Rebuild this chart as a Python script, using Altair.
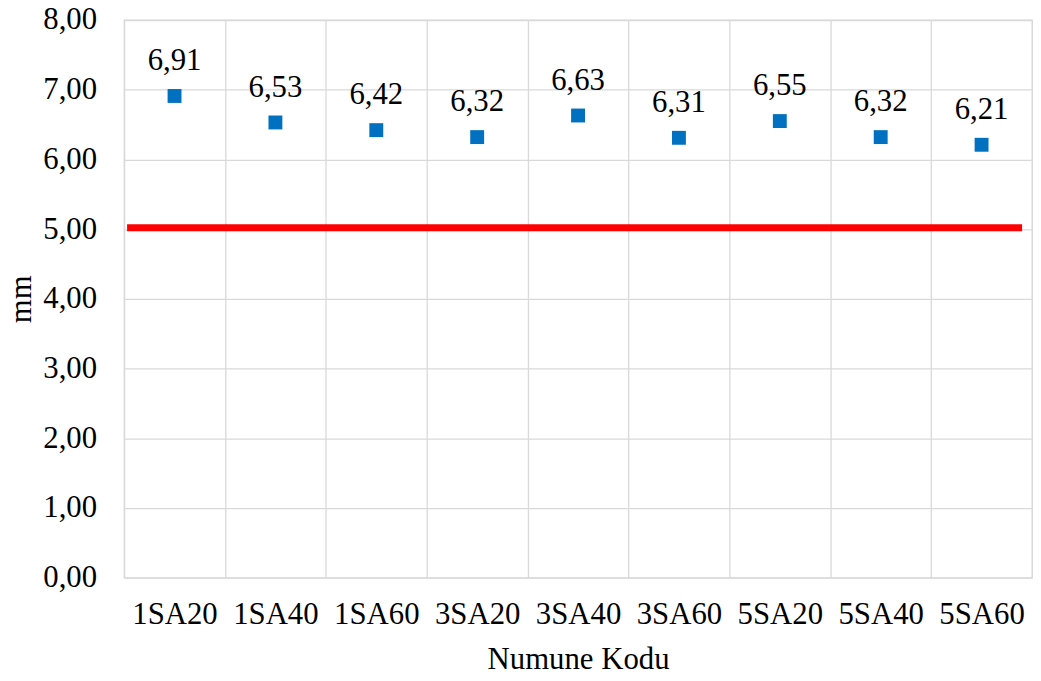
import altair as alt
import pandas as pd

codes = ["1SA20", "1SA40", "1SA60", "3SA20", "3SA40", "3SA60", "5SA20", "5SA40", "5SA60"]
values = [6.91, 6.53, 6.42, 6.32, 6.63, 6.31, 6.55, 6.32, 6.21]
limit_value = [5.02]

df = pd.DataFrame({"kod": codes, "deger": values})
df["etiket"] = [f"{v:.2f}".replace(".", ",") for v in values]
lim = pd.DataFrame({"limit": limit_value})

FONT = "Liberation Serif"
FS = 31

x_enc = alt.X(
    "kod:N",
    sort=codes,
    scale=alt.Scale(paddingInner=0, paddingOuter=0),
    axis=alt.Axis(
        title="Numune Kodu",
        tickBand="extent",
        labelAngle=0,
        labelBaseline="alphabetic",
        labelPadding=46.7,
        ticks=False,
        tickSize=0,
        domain=False,
        grid=True,
        titleY=92,
        titleBaseline="alphabetic",
        titleFontWeight="normal",
    ),
)
y_scale = alt.Scale(domain=[0, 8], nice=False, zero=True)
y_enc = alt.Y(
    "deger:Q",
    scale=y_scale,
    axis=alt.Axis(
        title="mm",
        values=[0, 1, 2, 3, 4, 5, 6, 7, 8],
        labelExpr="replace(format(datum.value, '.2f'), '.', ',')",
        labelPadding=27.7,
        labelBaseline="middle",
        ticks=False,
        tickSize=0,
        domain=False,
        grid=True,
        titleAngle=-90,
        titleX=-94,
        titleY=281,
        titleBaseline="alphabetic",
        titleAlign="center",
        titleFontWeight="normal",
    ),
)

points = alt.Chart(df).mark_square(size=196, color="#0070C0", opacity=1, filled=True).encode(
    x=x_enc, y=y_enc
)
labels = alt.Chart(df).mark_text(
    font=FONT, fontSize=FS, color="#000000", dy=-26, baseline="alphabetic", align="center"
).encode(
    x=x_enc,
    y=y_enc,
    text="etiket:N",
)
redline = alt.Chart(lim).mark_rule(color="#FF0000", strokeWidth=7, strokeCap="butt").encode(
    y=alt.Y("limit:Q", scale=y_scale),
    x=alt.value(3),
    x2=alt.value(905),
)

chart = (
    alt.layer(points, redline, labels)
    .properties(
        width=915,
        height=562,
        autosize="none",
        background="#ffffff",
        padding={"left": 117, "top": 9.5, "right": 1, "bottom": 93},
    )
    .configure_view(stroke="#d9d9d9", strokeWidth=1.3)
    .configure_axis(
        gridColor="#d9d9d9",
        gridWidth=1.3,
        labelFont=FONT,
        labelFontSize=FS,
        labelColor="#000000",
        titleFont=FONT,
        titleFontSize=FS,
        titleColor="#000000",
    )
)

chart.save("out.html", embed_options={"renderer": "svg", "actions": False})
